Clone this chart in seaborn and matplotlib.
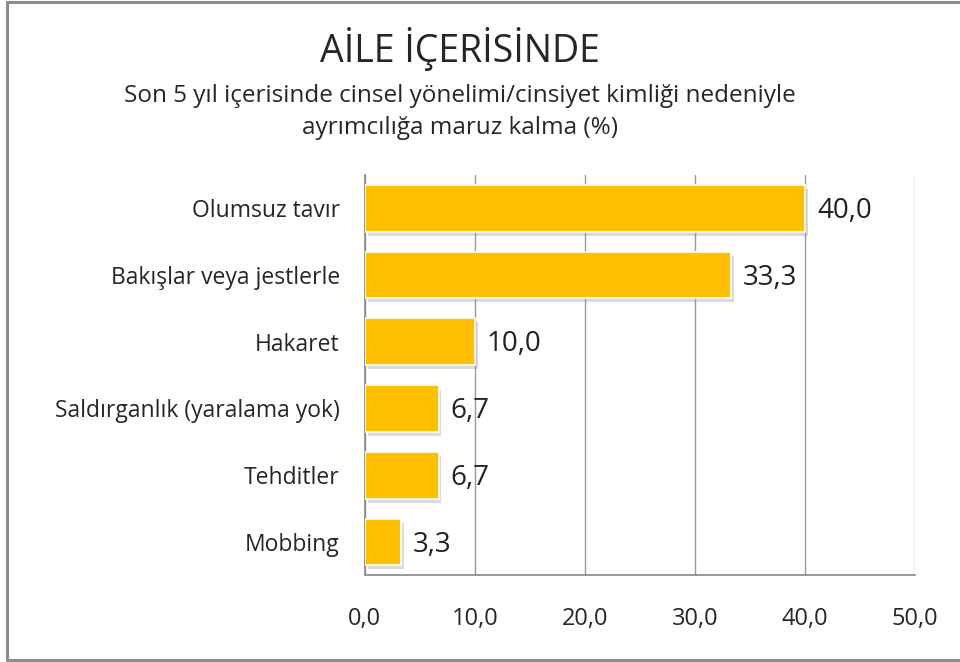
import matplotlib
matplotlib.use("Agg")
import matplotlib.pyplot as plt
import matplotlib.patheffects as pe
from matplotlib.lines import Line2D
import seaborn as sns
import pandas as pd

# data
categories = ["Olumsuz tavır", "Bakışlar veya jestlerle", "Hakaret",
              "Saldırganlık (yaralama yok)", "Tehditler", "Mobbing"]
values = [40.0, 33.3, 10.0, 6.7, 6.7, 3.3]
xticks = [0, 10, 20, 30, 40, 50]

df = pd.DataFrame({"kategori": categories, "deger": values})

sns.set_style("white")
plt.rcParams["font.family"] = ["Open Sans", "DejaVu Sans"]

fig = plt.figure(figsize=(9.6, 6.62), dpi=100)
ax = fig.add_axes([0.380, 0.131, 0.573, 0.605])

sns.barplot(data=df, y="kategori", x="deger", color="#FFC000", width=0.7,
            edgecolor="white", linewidth=1.2, saturation=1, ax=ax, zorder=3)
for p in ax.patches:
    p.set_path_effects([pe.SimplePatchShadow(offset=(2, -3), shadow_rgbFace="#999999", alpha=0.35),
                        pe.Normal()])

for i, v in enumerate(values):
    ax.text(v + 1.1, i + 0.04, f"{v:.1f}".replace(".", ","), va="center", ha="left",
            fontsize=20, color="#222222")

ax.set_xlim(0, 50)
ax.set_xticks(xticks)
ax.set_xticklabels([f"{t:.1f}".replace(".", ",") for t in xticks], fontsize=17)
ax.set_ylim(5.5, -0.5)
ax.set_yticks([i - 0.5 for i in range(7)])
ax.set_yticklabels([])
ax.set_yticks(range(6), minor=True)
ax.set_yticklabels(categories, minor=True, fontsize=16.5)
ax.tick_params(axis="y", which="minor", length=0, pad=18)
ax.tick_params(axis="y", which="major", length=8, color="#888888", direction="out")
ax.tick_params(axis="x", length=8, color="#888888", direction="out", pad=15)
ax.set_xlabel("")
ax.set_ylabel("")
ax.grid(axis="x", color="#999999", linewidth=1, zorder=0)
for s in ["top", "right"]:
    ax.spines[s].set_visible(False)
for s in ["left", "bottom"]:
    ax.spines[s].set_color("#888888")
    ax.spines[s].set_linewidth(1.2)

fig.text(0.479, 0.926, "AİLE İÇERİSİNDE", ha="center", va="center", fontsize=27)
fig.text(0.479, 0.831, "Son 5 yıl içerisinde cinsel yönelimi/cinsiyet kimliği nedeniyle\nayrımcılığa maruz kalma (%)",
         ha="center", va="center", fontsize=17.5, linespacing=1.42)

# outer frame (left, top, bottom edges visible)
W, H = 960, 662
frame_kw = dict(color="#8c8c8c", linewidth=2.2, transform=fig.transFigure)
fig.lines.append(Line2D([6.5 / W, 6.5 / W], [1 - 1.5 / H, 1 - 659.5 / H], **frame_kw))
fig.lines.append(Line2D([6.5 / W, 1.0], [1 - 1.5 / H, 1 - 1.5 / H], **frame_kw))
fig.lines.append(Line2D([6.5 / W, 1.0], [1 - 659.5 / H, 1 - 659.5 / H], **frame_kw))

fig.savefig("out.png", dpi=100)
